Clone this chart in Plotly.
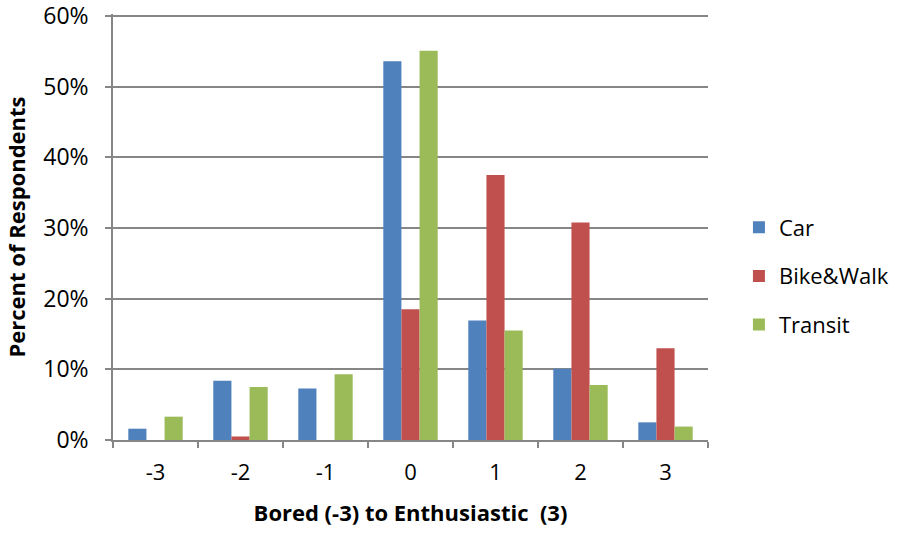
import plotly.graph_objects as go

categories = ["-3", "-2", "-1", "0", "1", "2", "3"]
car = [1.6, 8.4, 7.3, 53.6, 16.9, 10.1, 2.5]
bike_walk = [0.0, 0.5, 0.0, 18.5, 37.5, 30.8, 13.0]
transit = [3.3, 7.5, 9.3, 55.1, 15.5, 7.8, 1.9]
y_ticks = [0, 10, 20, 30, 40, 50, 60]
y_tick_labels = ["0%", "10%", "20%", "30%", "40%", "50%", "60%"]

series = [("Car", car, "#4F81BD"), ("Bike&Walk", bike_walk, "#C0504D"), ("Transit", transit, "#9BBB59")]

fig = go.Figure()
for name, vals, col in series:
    fig.add_trace(go.Bar(x=categories, y=vals, name=name, legendgroup=name,
                         marker=dict(color=col, line=dict(width=0))))

font = "Open Sans"
grey = "#868686"
fig.update_layout(
    width=906, height=534,
    margin=dict(l=113, r=188, t=14, b=94),
    plot_bgcolor="white", paper_bgcolor="white",
    barmode="group", bargap=0.36, bargroupgap=0,
    font=dict(family=font, size=22, color="#000000"),
    showlegend=True,
    legend=dict(x=1.052, y=0.385, xanchor="left", yanchor="middle", font=dict(size=22),
                tracegroupgap=17, itemwidth=30),
)
fig.update_xaxes(
    type="category", tickson="boundaries", ticks="outside", ticklen=6, tickcolor=grey, tickwidth=1.5,
    showline=True, linecolor=grey, linewidth=1.5, automargin=False,
    title=dict(text="<b>Bored (-3) to Enthusiastic  (3)</b>", font=dict(size=22), standoff=20),
    tickfont=dict(size=22), ticklabelstandoff=12,
)
fig.update_yaxes(
    range=[0, 60.3], tickvals=y_ticks, ticktext=y_tick_labels,
    ticks="outside", ticklen=6, tickcolor=grey, tickwidth=1.5,
    showline=True, linecolor=grey, linewidth=1.5, automargin=False,
    showgrid=True, gridcolor=grey, gridwidth=1.5,
    zeroline=False, ticklabeloverflow="allow",
    title=dict(text="<b>Percent of Respondents</b>", font=dict(size=22), standoff=12),
    tickfont=dict(size=23), ticklabelstandoff=12,
)
fig.write_html("out.html", config={"displayModeBar": False},
               post_script="document.body.style.margin='0';document.body.style.overflow='hidden';")
